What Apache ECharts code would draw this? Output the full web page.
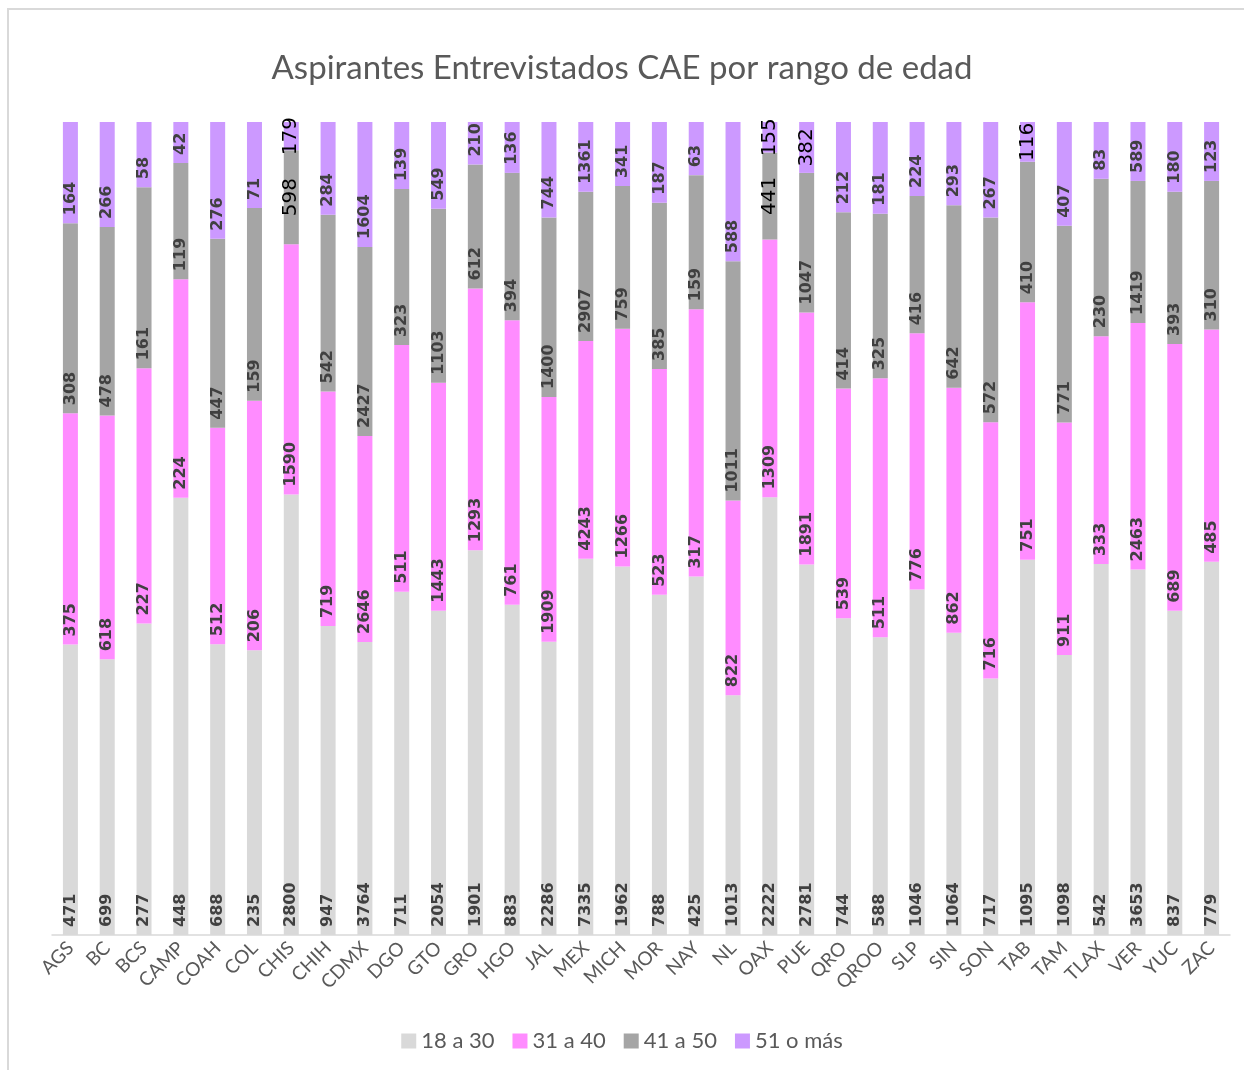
<!DOCTYPE html>
<html>
<head>
<meta charset="utf-8">
<script src="https://cdn.jsdelivr.net/npm/echarts@6/dist/echarts.min.js"></script>
<style>
  html, body { margin: 0; padding: 0; background: #fff; }
  #chart { width: 1244px; height: 1070px; }
</style>
</head>
<body>
<div id="chart"></div>
<script>
var estados = ['AGS','BC','BCS','CAMP','COAH','COL','CHIS','CHIH','CDMX','DGO','GTO','GRO','HGO','JAL','MEX','MICH','MOR','NAY','NL','OAX','PUE','QRO','QROO','SLP','SIN','SON','TAB','TAM','TLAX','VER','YUC','ZAC'];
var rangos = ['18 a 30', '31 a 40', '41 a 50', '51 o más'];

var edad18a30 = [471,699,277,448,688,235,2800,947,3764,711,2054,1901,883,2286,7335,1962,788,425,1013,2222,2781,744,588,1046,1064,717,1095,1098,542,3653,837,779];
var edad31a40 = [375,618,227,224,512,206,1590,719,2646,511,1443,1293,761,1909,4243,1266,523,317,822,1309,1891,539,511,776,862,716,751,911,333,2463,689,485];
var edad41a50 = [308,478,161,119,447,159,598,542,2427,323,1103,612,394,1400,2907,759,385,159,1011,441,1047,414,325,416,642,572,410,771,230,1419,393,310];
var edad51mas = [164,266,58,42,276,71,179,284,1604,139,549,210,136,744,1361,341,187,63,588,155,382,212,181,224,293,267,116,407,83,589,180,123];

// etiquetas que en el original van centradas, en negro y más grandes
var etiquetasCentradas = {
  2: ['CHIS', 'OAX'],
  3: ['CHIS', 'OAX', 'PUE', 'TAB']
};

var colores = ['#d9d9d9', '#ff8cff', '#a5a5a5', '#cc99ff'];
var valores = [edad18a30, edad31a40, edad41a50, edad51mas];

var totales = estados.map(function (e, i) {
  return edad18a30[i] + edad31a40[i] + edad41a50[i] + edad51mas[i];
});

var series = valores.map(function (arr, s) {
  var especiales = etiquetasCentradas[s] || [];
  return {
    name: rangos[s],
    type: 'bar',
    stack: 'total',
    barWidth: 15,
    itemStyle: { color: colores[s] },
    label: {
      show: true,
      position: 'insideBottom',
      distance: 8,
      rotate: 90,
      align: 'left',
      verticalAlign: 'middle',
      fontFamily: 'DejaVu Sans',
      fontWeight: 'bold',
      fontSize: 16,
      color: '#404040',
      formatter: function (p) { return arr[p.dataIndex]; }
    },
    data: arr.map(function (v, i) {
      var d = { value: v / totales[i] * 100 };
      if (especiales.indexOf(estados[i]) >= 0) {
        d.label = {
          position: 'inside',
          align: 'center',
          verticalAlign: 'middle',
          fontWeight: 'normal',
          fontSize: 20,
          color: '#000'
        };
      }
      return d;
    })
  };
});

var chart = echarts.init(document.getElementById('chart'));
chart.setOption({
  animation: false,
  backgroundColor: '#fff',
  title: {
    text: 'Aspirantes Entrevistados CAE por rango de edad',
    left: 'center',
    top: 47,
    textStyle: {
      fontFamily: 'Lato',
      fontSize: 33,
      fontWeight: 'normal',
      color: '#595959'
    }
  },
  legend: {
    bottom: 13,
    left: 'center',
    itemWidth: 15,
    itemHeight: 15,
    itemGap: 18,
    icon: 'rect',
    textStyle: { fontFamily: 'Lato', fontSize: 22, color: '#595959' },
    data: rangos
  },
  grid: { left: 52, right: 14, top: 122, bottom: 135 },
  xAxis: {
    type: 'category',
    data: estados,
    axisLine: { lineStyle: { color: '#d9d9d9', width: 1.5 } },
    axisTick: { show: false },
    axisLabel: {
      rotate: 45,
      interval: 0,
      margin: 10,
      fontFamily: 'Lato',
      fontSize: 19,
      color: '#595959'
    }
  },
  yAxis: {
    type: 'value',
    min: 0,
    max: 100,
    show: false
  },
  graphic: [{
    type: 'rect',
    shape: { x: 8, y: 9, width: 1400, height: 1200 },
    style: { fill: 'none', stroke: '#d9d9d9', lineWidth: 2 },
    silent: true
  }],
  series: series
});
</script>
</body>
</html>
